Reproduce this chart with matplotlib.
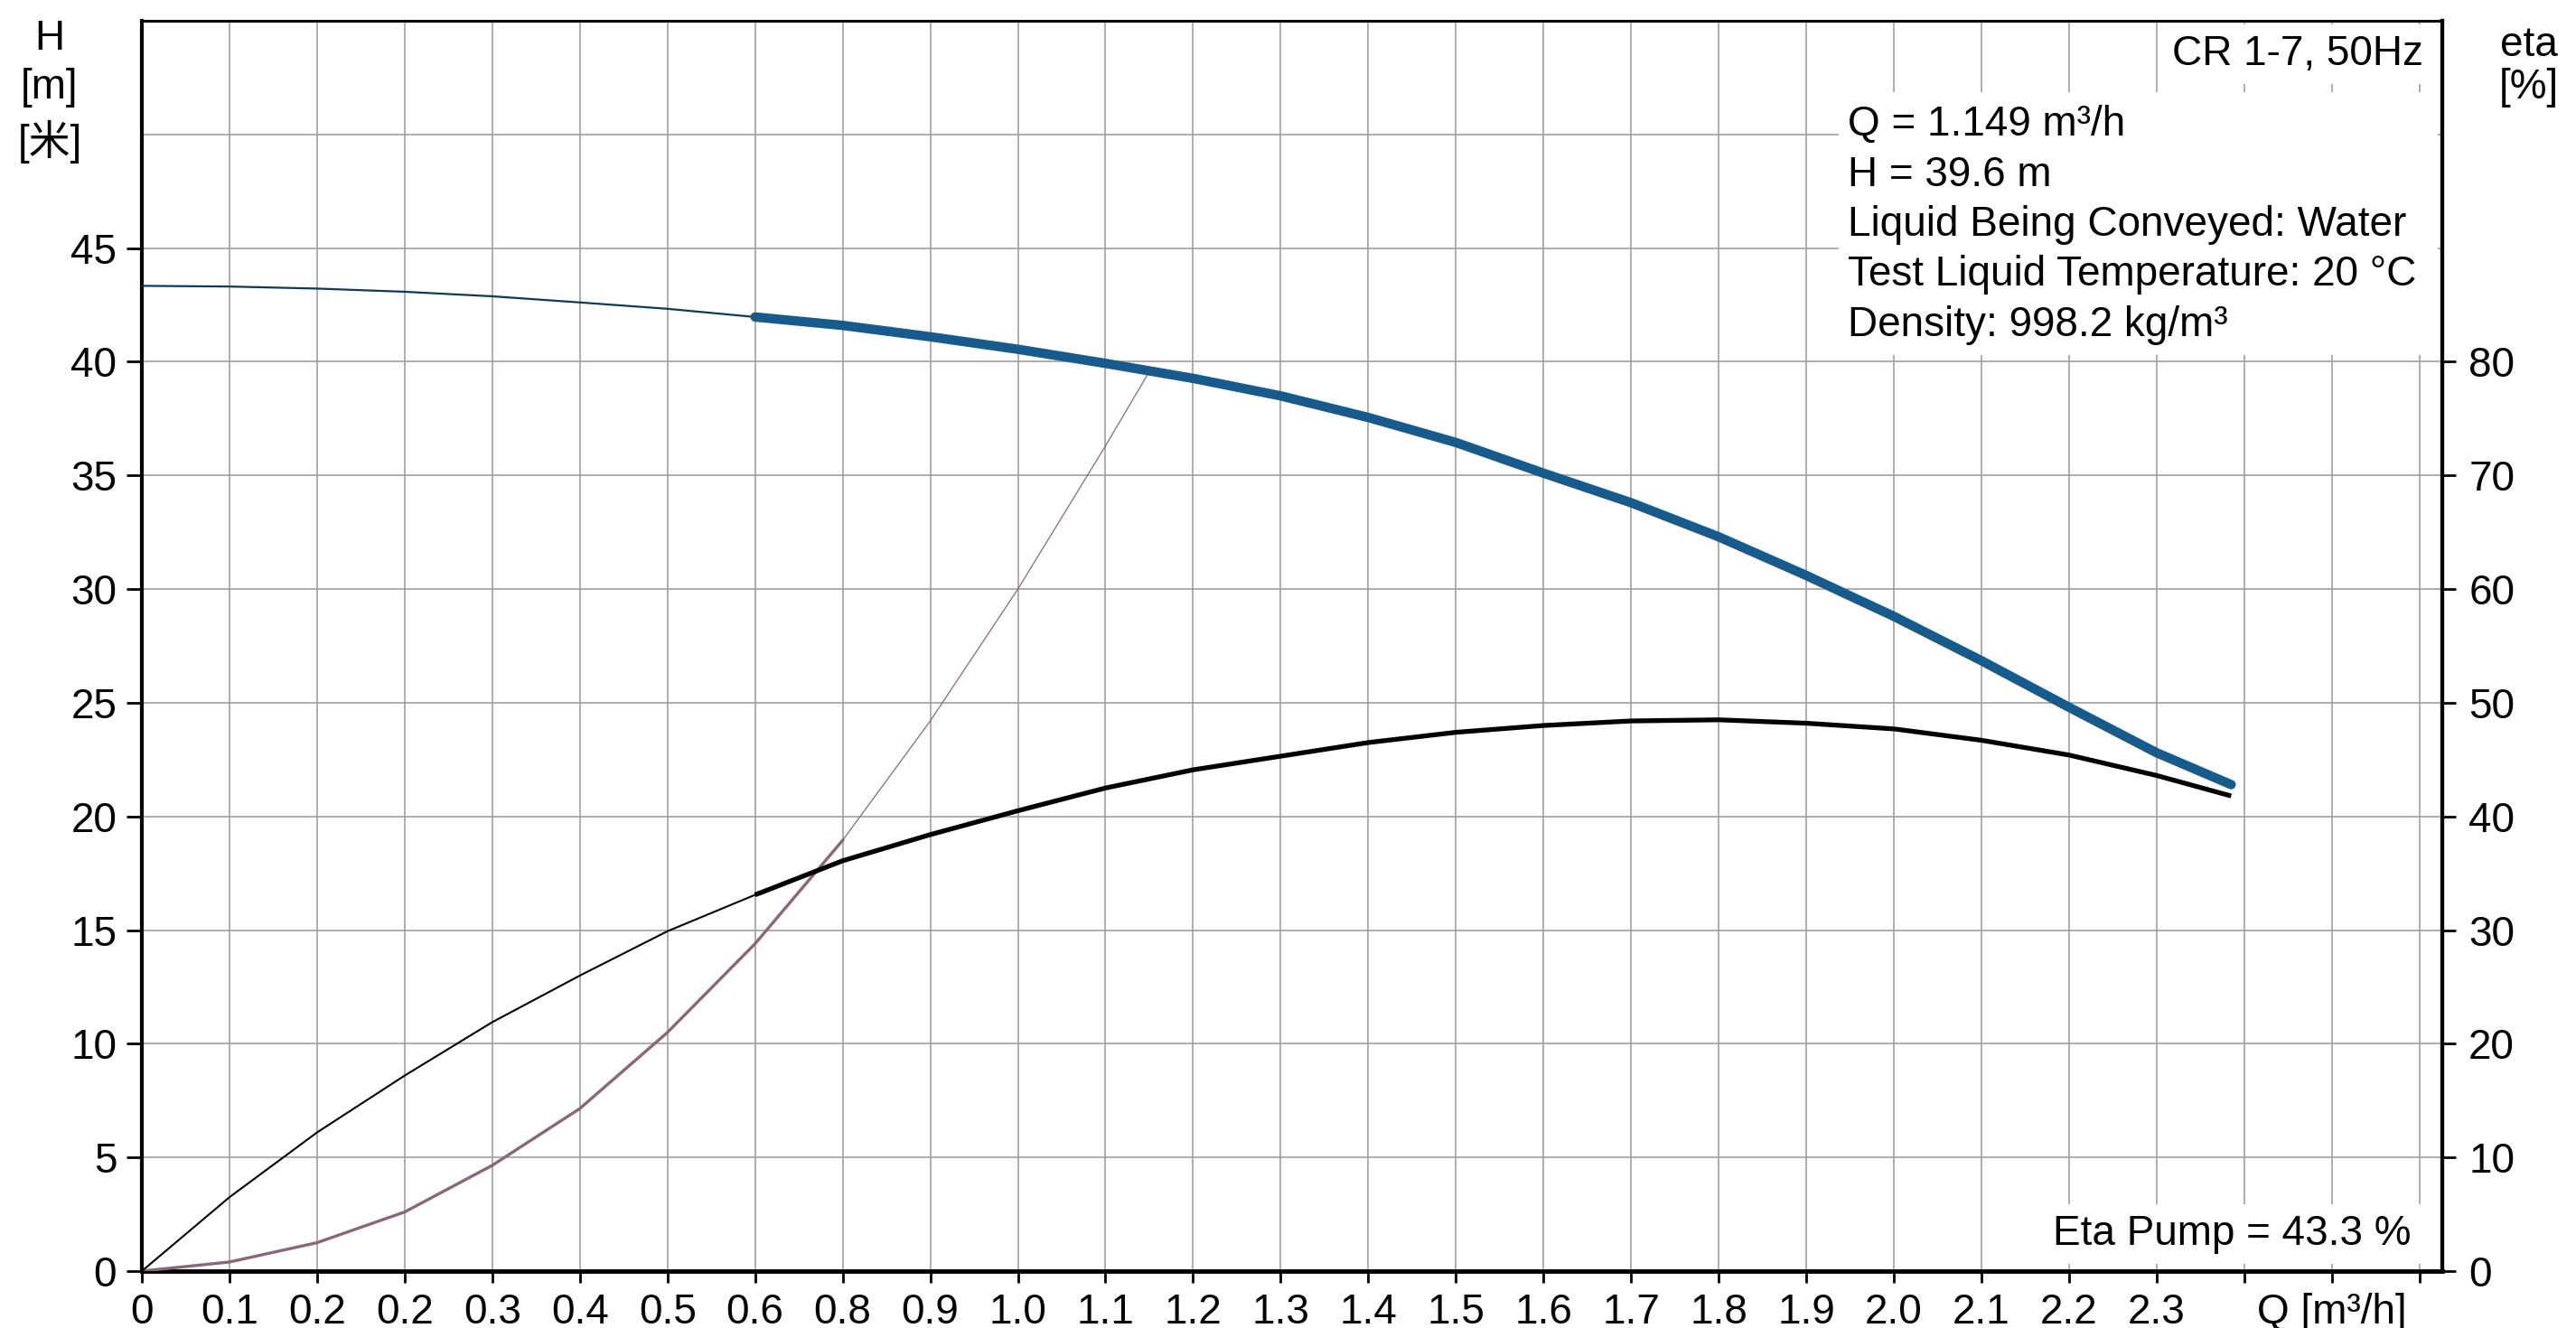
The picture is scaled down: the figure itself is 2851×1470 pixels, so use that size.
import matplotlib
matplotlib.use('Agg')
import matplotlib.pyplot as plt
from matplotlib.patches import Rectangle
import numpy as np

plt.rcParams['font.family'] = ['Liberation Sans', 'Noto Sans CJK SC', 'DejaVu Sans']

# ---------------- data ----------------
q_curve = [0.0, 0.1, 0.2, 0.3, 0.4, 0.5, 0.6, 0.7, 0.8, 0.9, 1.0, 1.1, 1.2,
           1.3, 1.4, 1.5, 1.6, 1.7, 1.8, 1.9, 2.0, 2.1, 2.2, 2.3, 2.385]
head_m = [43.34, 43.31, 43.22, 43.08, 42.88, 42.61, 42.33, 41.97, 41.6, 41.1,
          40.55, 39.93, 39.27, 38.5, 37.55, 36.45, 35.1, 33.8, 32.3, 30.6,
          28.8, 26.85, 24.8, 22.8, 21.4]
eta_pct = [0.0, 6.5, 12.2, 17.2, 21.9, 26.0, 29.9, 33.1, 36.1, 38.4, 40.5,
           42.5, 44.1, 45.3, 46.5, 47.4, 48.0, 48.4, 48.5, 48.2, 47.7, 46.7,
           45.4, 43.6, 41.8]
op_start = 7  # index where the operating (thick) range starts

q_sys = [0.0, 0.1, 0.2, 0.3, 0.4, 0.5, 0.6, 0.7, 0.8, 0.9, 1.0, 1.1, 1.149]
h_sys = [0.0, 0.4, 1.25, 2.6, 4.65, 7.15, 10.5, 14.4, 18.95, 24.2, 30.0, 36.3, 39.5]
sys_thick_end = 9

x_tick_pos = [i / 10 for i in range(27)]
x_tick_labels = ['0', '0.1', '0.2', '0.2', '0.3', '0.4', '0.5', '0.6', '0.8',
                 '0.9', '1.0', '1.1', '1.2', '1.3', '1.4', '1.5', '1.6', '1.7',
                 '1.8', '1.9', '2.0', '2.1', '2.2', '2.3', '', 'Q [m³/h]', '']
h_ticks = [0, 5, 10, 15, 20, 25, 30, 35, 40, 45]
eta_ticks = [0, 10, 20, 30, 40, 50, 60, 70, 80]

info_lines = ['Q = 1.149 m³/h', 'H = 39.6 m', 'Liquid Being Conveyed: Water',
              'Test Liquid Temperature: 20 °C', 'Density: 998.2 kg/m³']
title_txt = 'CR 1-7, 50Hz'
eta_txt = 'Eta Pump = 43.3 %'

# ---------------- figure ----------------
W, H = 2851, 1470
FS = 33
fig = plt.figure(figsize=(W / 100, H / 100), dpi=100)
ax = fig.add_axes([157 / W, 1 - 1407 / H, (2703 - 157) / W, (1407 - 23) / H])
ax.set_xlim(0, 2.626)
ax.set_ylim(0, 55)

ax.set_xticks(x_tick_pos)
ax.set_xticklabels(x_tick_labels, fontsize=FS)
ax.set_yticks(h_ticks)
ax.set_yticklabels([str(t) for t in h_ticks], fontsize=FS)
ax.set_yticks([50], minor=True)
ax.tick_params(axis='y', which='minor', length=0)
ax.tick_params(axis='x', length=9.5, width=2, pad=8, direction='out')
ax.tick_params(axis='y', which='major', length=12, width=2, pad=8, direction='out')
ax.grid(True, which='both', color='#a0a0a0', lw=1.2)
ax.set_axisbelow(True)
for s, lw in [('left', 3), ('bottom', 3.5), ('top', 2.2), ('right', 3)]:
    ax.spines[s].set_linewidth(lw)

ax2 = ax.twinx()
ax2.set_ylim(0, 110)
ax2.set_yticks(eta_ticks)
ax2.set_yticklabels([str(t) for t in eta_ticks], fontsize=FS)
ax2.tick_params(axis='y', length=11, width=2, pad=10, direction='out')
for s in ['left', 'bottom', 'top']:
    ax2.spines[s].set_visible(False)
ax2.spines['right'].set_linewidth(3)

# system curve
ax.plot(q_sys, h_sys, color='#8a6679', lw=0.9, zorder=3)
ax.plot(q_sys[:sys_thick_end], h_sys[:sys_thick_end], color='#8a6679', lw=2.4, zorder=3)

# pump head curve
ax.plot(q_curve[:op_start + 1], head_m[:op_start + 1], color='#0e3a5a', lw=1.6, zorder=4)
ax.plot(q_curve[op_start:], head_m[op_start:], color='#165b8b', lw=7.5,
        solid_capstyle='round', zorder=5)

# efficiency curve
ax2.plot(q_curve[:op_start + 1], eta_pct[:op_start + 1], color='black', lw=1.5)
ax2.plot(q_curve[op_start:], eta_pct[op_start:], color='black', lw=3.8,
         solid_capstyle='butt')

# ---------------- text ----------------
fig.patches.append(Rectangle((2035 / W, 1 - 393 / H), (2698 - 2035) / W, (393 - 102) / H,
                             transform=fig.transFigure, facecolor='white',
                             edgecolor='none', zorder=2))
for i, s in enumerate(info_lines):
    fig.text(2045 / W, 1 - (138 + i * 55.5) / H, s, ha='left', va='center',
             fontsize=FS, zorder=3)

fig.text(2682 / W, 1 - 60 / H, title_txt, ha='right', va='center', fontsize=FS,
         zorder=3, bbox=dict(facecolor='white', edgecolor='none', pad=8))
fig.text(2668 / W, 1 - 1366 / H, eta_txt, ha='right', va='center', fontsize=FS,
         zorder=3, bbox=dict(facecolor='white', edgecolor='none', pad=8))

for s, y in [('H', 43), ('[m]', 97), ('[米]', 157)]:
    fig.text(55 / W, 1 - y / H, s, ha='center', va='center', fontsize=FS)
for s, y in [('eta', 50), ('[%]', 97)]:
    fig.text(2799 / W, 1 - y / H, s, ha='center', va='center', fontsize=FS)

fig.savefig('out.png', dpi=100, facecolor='white')
